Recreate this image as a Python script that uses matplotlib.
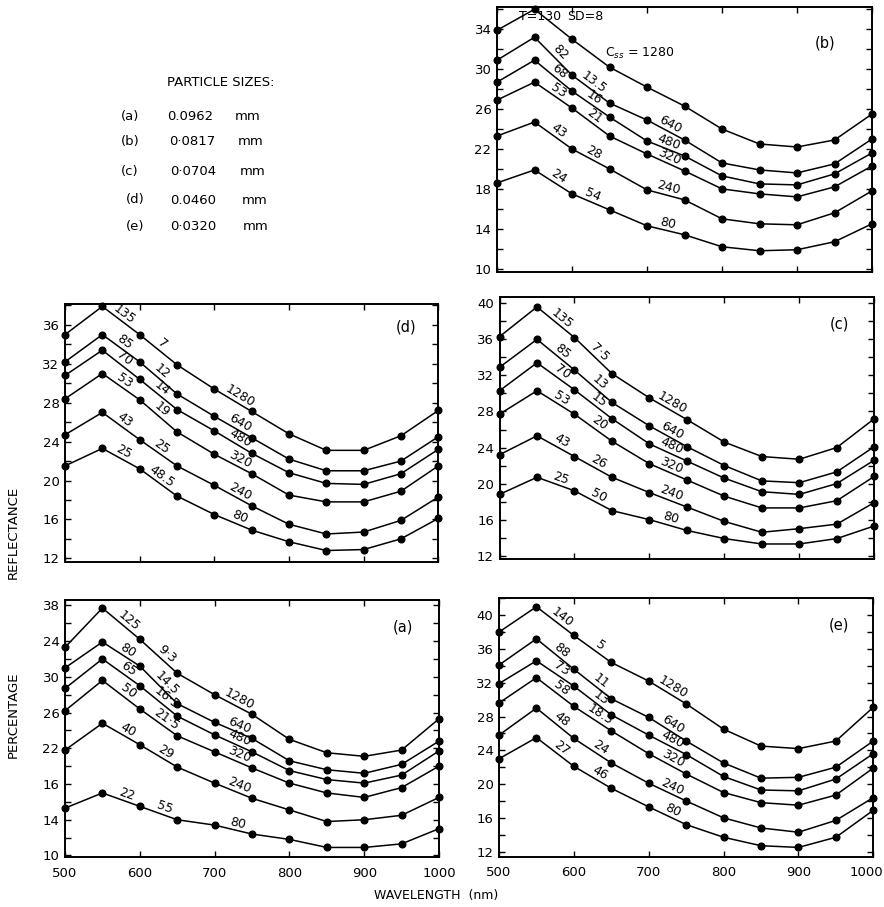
import numpy as np
import matplotlib
matplotlib.use('Agg')
import matplotlib.pyplot as plt
from matplotlib.ticker import MultipleLocator

plt.rcParams['font.family'] = ['DejaVu Sans']

# ---------------- data ----------------
wavelength = [500, 550, 600, 650, 700, 750, 800, 850, 900, 950, 1000]

refl_a = [
    [33.3, 37.7, 34.2, 30.4, 28.0, 25.8, 23.0, 21.5, 21.1, 21.8, 25.3],
    [31.0, 33.9, 31.2, 27.0, 24.9, 23.1, 20.6, 19.6, 19.2, 20.2, 22.8],
    [28.7, 32.0, 29.0, 25.6, 23.5, 21.6, 19.5, 18.5, 18.1, 19.0, 21.7],
    [26.2, 29.6, 26.4, 23.4, 21.6, 19.8, 18.1, 17.0, 16.5, 17.6, 20.0],
    [21.8, 24.8, 22.4, 19.9, 18.1, 16.4, 15.1, 13.8, 14.0, 14.5, 16.5],
    [15.3, 17.0, 15.5, 14.0, 13.4, 12.4, 11.8, 10.9, 10.9, 11.3, 13.0],
]
refl_b = [
    [33.9, 36.0, 33.0, 30.2, 28.2, 26.3, 24.0, 22.5, 22.2, 22.9, 25.5],
    [30.9, 33.2, 29.4, 26.6, 24.9, 22.9, 20.6, 19.9, 19.6, 20.5, 23.0],
    [28.7, 30.9, 27.8, 25.2, 22.8, 21.3, 19.3, 18.5, 18.4, 19.5, 21.6],
    [26.9, 28.7, 26.1, 23.3, 21.5, 19.8, 18.0, 17.5, 17.2, 18.2, 20.3],
    [23.3, 24.7, 22.0, 20.0, 17.9, 16.9, 15.0, 14.5, 14.4, 15.6, 17.8],
    [18.6, 19.9, 17.5, 15.9, 14.3, 13.4, 12.2, 11.8, 11.9, 12.7, 14.5],
]
refl_c = [
    [36.3, 39.6, 36.2, 32.2, 29.5, 27.1, 24.6, 23.0, 22.7, 24.0, 27.2],
    [32.9, 36.0, 32.6, 29.0, 26.4, 24.1, 22.0, 20.3, 20.1, 21.3, 24.1],
    [30.3, 33.4, 30.4, 27.2, 24.4, 22.5, 20.6, 19.1, 18.8, 20.0, 22.6],
    [27.7, 30.3, 27.7, 24.7, 22.2, 20.4, 18.6, 17.3, 17.3, 18.1, 20.8],
    [23.2, 25.3, 23.0, 20.7, 19.0, 17.4, 15.8, 14.6, 15.0, 15.5, 17.9],
    [18.8, 20.7, 19.2, 17.0, 16.0, 14.8, 13.9, 13.3, 13.3, 13.9, 15.3],
]
refl_d = [
    [35.0, 37.9, 35.0, 31.9, 29.4, 27.1, 24.8, 23.1, 23.1, 24.6, 27.2],
    [32.2, 35.0, 32.2, 28.9, 26.6, 24.4, 22.2, 21.0, 21.0, 22.0, 24.5],
    [30.8, 33.4, 30.4, 27.3, 25.1, 22.8, 20.8, 19.7, 19.6, 20.7, 23.2],
    [28.4, 31.0, 28.3, 25.0, 22.7, 20.7, 18.5, 17.8, 17.8, 18.9, 21.5],
    [24.7, 27.0, 24.2, 21.5, 19.5, 17.4, 15.5, 14.5, 14.7, 15.9, 18.3],
    [21.5, 23.3, 21.2, 18.4, 16.5, 14.9, 13.7, 12.8, 12.9, 14.0, 16.1],
]
refl_e = [
    [38.0, 41.0, 37.6, 34.4, 32.2, 29.5, 26.5, 24.5, 24.2, 25.1, 29.1],
    [34.1, 37.2, 33.6, 30.1, 27.9, 25.1, 22.5, 20.7, 20.8, 22.0, 25.1],
    [31.9, 34.6, 31.6, 28.2, 25.8, 23.5, 20.9, 19.3, 19.2, 20.6, 23.6],
    [29.6, 32.6, 29.2, 26.3, 23.6, 21.2, 19.0, 17.8, 17.5, 18.7, 21.9],
    [25.8, 29.0, 25.4, 22.5, 20.1, 18.0, 16.0, 14.8, 14.3, 15.7, 18.4],
    [23.0, 25.5, 22.1, 19.5, 17.3, 15.2, 13.7, 12.7, 12.5, 13.7, 16.9],
]

t_labels_a = ['125', '80', '65', '50', '40', '22']
t_labels_b = ['T=130', '82', '68', '53', '43', '24']
t_labels_c = ['135', '85', '70', '53', '43', '25']
t_labels_d = ['135', '85', '70', '53', '43', '25']
t_labels_e = ['140', '88', '73', '58', '48', '27']

sd_labels_a = ['9·3', '14.5', '16·5', '21·5', '29', '55']
sd_labels_b = ['SD=8', '13.5', '16', '21', '28', '54']
sd_labels_c = ['7·5', '13', '15', '20', '26', '50']
sd_labels_d = ['7', '12', '14', '19', '25', '48.5']
sd_labels_e = ['5', '11', '13', '18.5', '24', '46']

css_labels = ['1280', '640', '480', '320', '240', '80']

xtick_vals = [500, 600, 700, 800, 900, 1000]
yticks_b = [10, 14, 18, 22, 26, 30, 34]
yticks_d = [12, 16, 20, 24, 28, 32, 36]
yticks_c = [12, 16, 20, 24, 28, 32, 36, 40]
yticks_e = [12, 16, 20, 24, 28, 32, 36, 40]
ytick_vals_a = [10, 14, 18, 22, 26, 30, 34, 38]
ytick_text_a = ['10', '14', '16', '22', '26', '30', '24', '38']

panel_names = ['(a)', '(b)', '(c)', '(d)', '(e)']
particle_sizes = ['0.0962', '0·0817', '0·0704', '0.0460', '0·0320']

# ---------------- figure ----------------
W, H = 884, 907
fig = plt.figure(figsize=(W / 100, H / 100), dpi=100)


def px_axes(l, r, t, b):
    return fig.add_axes([l / W, 1 - b / H, (r - l) / W, (b - t) / H])


def seg_label(ax, xs, ys, i, t, s, off=5.2, fs=9):
    p0 = ax.transData.transform((xs[i], ys[i]))
    p1 = ax.transData.transform((xs[i + 1], ys[i + 1]))
    ang = np.degrees(np.arctan2(p1[1] - p0[1], p1[0] - p0[0]))
    xd = xs[i] + t * (xs[i + 1] - xs[i])
    yd = ys[i] + t * (ys[i + 1] - ys[i])
    nx, ny = -np.sin(np.radians(ang)), np.cos(np.radians(ang))
    ax.annotate(s, (xd, yd), xytext=(nx * off, ny * off),
                textcoords='offset points', rotation=ang,
                rotation_mode='anchor', ha='center', va='center',
                fontsize=fs)


def make_panel(box, ylim, data, tl, sdl, fr, name, name_pos, bottom_labels,
               yticks, ytext=None, skip_first=False):
    ax = px_axes(*box)
    ax.set_xlim(500, 1000)
    ax.set_ylim(*ylim)
    for row in data:
        ax.plot(wavelength, row, '-', color='black', lw=1.1,
                marker='o', ms=4.8, mfc='black', mec='black', clip_on=False,
                zorder=3)
    ax.set_xticks(xtick_vals)
    ax.set_yticks(yticks)
    if ytext is not None:
        ax.set_yticklabels(ytext)
    ax.yaxis.set_minor_locator(MultipleLocator(2))
    ax.tick_params(which='both', direction='in', top=True, right=True,
                   length=4.5, width=1.0, labelsize=9.5, pad=4)
    ax.tick_params(axis='x', labelbottom=bottom_labels, pad=7)
    for sp in ax.spines.values():
        sp.set_linewidth(1.4)
    ax.text(name_pos[0], name_pos[1], name, transform=ax.transAxes,
            ha='center', va='center', fontsize=10.5)
    for k, row in enumerate(data):
        if skip_first and k == 0:
            continue
        seg_label(ax, wavelength, row, 1, fr[0], tl[k])
        seg_label(ax, wavelength, row, 2, fr[1], sdl[k])
        seg_label(ax, wavelength, row, 4, fr[2], css_labels[k])
    return ax


ax_b = make_panel((497, 872, 7.3, 271.7), (9.7, 36.2), refl_b,
                  t_labels_b, sd_labels_b, (0.54, 0.48, 0.52), '(b)',
                  (0.875, 0.865), False, yticks_b, skip_first=True)
ax_b.text(557, 35.3, t_labels_b[0], ha='center', va='center', fontsize=9)
ax_b.text(617, 35.3, sd_labels_b[0], ha='center', va='center', fontsize=9)
ax_b.text(690, 31.6, r'C$_{ss}$ = ' + css_labels[0], ha='center',
          va='center', fontsize=9)

make_panel((65, 438.3, 304, 561.7), (11.65, 38.15), refl_d,
           t_labels_d, sd_labels_d, (0.48, 0.48, 0.6), '(d)',
           (0.913, 0.912), False, yticks_d)
make_panel((499.5, 874.3, 297, 559.3), (11.6, 40.7), refl_c,
           t_labels_c, sd_labels_c, (0.56, 0.55, 0.52), '(c)',
           (0.908, 0.897), False, yticks_c)
make_panel((65, 439, 600, 857), (9.83, 38.6), refl_a,
           t_labels_a, sd_labels_a, (0.58, 0.6, 0.58), '(a)',
           (0.904, 0.896), True, ytick_vals_a, ytext=ytick_text_a)
ax_e = make_panel((499, 873.3, 598.3, 856.7), (11.4, 42.0), refl_e,
                  t_labels_e, sd_labels_e, (0.56, 0.6, 0.55), '(e)',
                  (0.908, 0.897), True, yticks_e)
# last tick label of (e) sits at the page edge: draw it right-aligned
ax_e.set_xticklabels([str(v) for v in xtick_vals[:-1]] + [''])
fig.text(883 / W, 1 - 873 / H, str(xtick_vals[-1]), ha='right', va='center',
         fontsize=9.5)

# ---------------- particle size legend ----------------
fig.text(167 / W, 1 - 83 / H, 'PARTICLE SIZES:', ha='left', va='center',
         fontsize=9.5)
row_y = [116.7, 141.7, 171.7, 200, 226.7]
name_x = [130, 130, 130, 135, 135]
val_x = [167, 169, 170, 170, 170]
mm_x = [235, 238, 240, 242, 243]
for k in range(5):
    fig.text(name_x[k] / W, 1 - row_y[k] / H, panel_names[k], ha='center',
             va='center', fontsize=9.5)
    fig.text(val_x[k] / W, 1 - row_y[k] / H, particle_sizes[k], ha='left',
             va='center', fontsize=9.5)
    fig.text(mm_x[k] / W, 1 - row_y[k] / H, 'mm', ha='left', va='center',
             fontsize=9.5)

# ---------------- axis titles ----------------
fig.text(13 / W, 1 - 715 / H, 'PERCENTAGE', rotation=90, ha='center',
         va='center', fontsize=9.5)
fig.text(13 / W, 1 - 532 / H, 'REFLECTANCE', rotation=90, ha='center',
         va='center', fontsize=9.5)
fig.text(436 / W, 1 - 896 / H, 'WAVELENGTH  (nm)', ha='center', va='center',
         fontsize=9)

fig.savefig('out.png', dpi=100)
